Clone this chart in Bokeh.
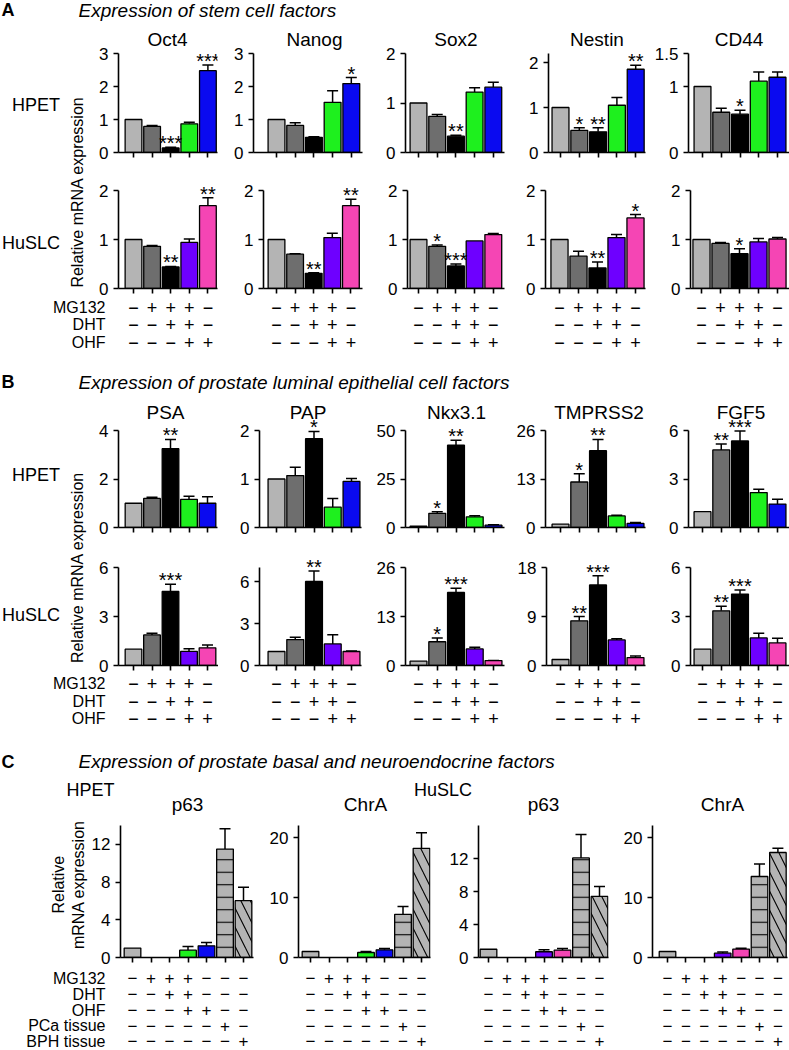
import math
from bokeh.plotting import figure
from bokeh.layouts import row, column
from bokeh.models import Range1d, FixedTicker, Whisker, ColumnDataSource, TeeHead
from bokeh.core.properties import value
from bokeh.embed import file_html
from bokeh.resources import INLINE

# ------------------------------------------------------------------ data
genes_a = ["Oct4", "Nanog", "Sox2", "Nestin", "CD44"]
genes_b = ["PSA", "PAP", "Nkx3.1", "TMPRSS2", "FGF5"]
genes_c = ["p63", "ChrA", "p63", "ChrA"]
cell_lines = ["HPET", "HuSLC"]

treatments_ab = ["MG132", "DHT", "OHF"]
mg132_ab = ["−", "+", "+", "+", "−"]
dht_ab = ["−", "−", "+", "+", "−"]
ohf_ab = ["−", "−", "−", "+", "+"]

treatments_c = ["MG132", "DHT", "OHF", "PCa tissue", "BPH tissue"]
mg132_c = ["−", "+", "+", "+", "−", "−", "−"]
dht_c = ["−", "−", "+", "+", "−", "−", "−"]
ohf_c = ["−", "−", "−", "+", "+", "−", "−"]
pca_c = ["−", "−", "−", "−", "−", "+", "−"]
bph_c = ["−", "−", "−", "−", "−", "−", "+"]

# Panel A, HPET
oct4_hpet = [1.0, 0.79, 0.14, 0.87, 2.48]
oct4_hpet_err = [0, 0.03, 0.02, 0.05, 0.17]
oct4_hpet_sig = ["", "", "***", "", "***"]
nanog_hpet = [1.0, 0.82, 0.46, 1.52, 2.09]
nanog_hpet_err = [0, 0.08, 0.02, 0.35, 0.18]
nanog_hpet_sig = ["", "", "", "", "*"]
sox2_hpet = [1.0, 0.73, 0.33, 1.22, 1.32]
sox2_hpet_err = [0, 0.04, 0.02, 0.09, 0.10]
sox2_hpet_sig = ["", "", "**", "", ""]
nestin_hpet = [1.0, 0.49, 0.46, 1.05, 1.85]
nestin_hpet_err = [0, 0.06, 0.09, 0.17, 0.09]
nestin_hpet_sig = ["", "*", "**", "", "**"]
cd44_hpet = [1.0, 0.61, 0.58, 1.08, 1.14]
cd44_hpet_err = [0, 0.06, 0.06, 0.14, 0.08]
cd44_hpet_sig = ["", "", "*", "", ""]

# Panel A, HuSLC
oct4_huslc = [1.0, 0.86, 0.44, 0.94, 1.69]
oct4_huslc_err = [0, 0.02, 0.01, 0.07, 0.16]
oct4_huslc_sig = ["", "", "**", "", "**"]
nanog_huslc = [1.0, 0.70, 0.31, 1.04, 1.69]
nanog_huslc_err = [0, 0.01, 0.01, 0.09, 0.13]
nanog_huslc_sig = ["", "", "**", "", "**"]
sox2_huslc = [1.0, 0.86, 0.46, 0.97, 1.10]
sox2_huslc_err = [0, 0.03, 0.04, 0.0, 0.02]
sox2_huslc_sig = ["", "*", "***", "", ""]
nestin_huslc = [1.0, 0.66, 0.42, 1.04, 1.44]
nestin_huslc_err = [0, 0.10, 0.12, 0.06, 0.07]
nestin_huslc_sig = ["", "", "**", "", "*"]
cd44_huslc = [1.0, 0.92, 0.71, 0.95, 1.01]
cd44_huslc_err = [0, 0.02, 0.10, 0.07, 0.03]
cd44_huslc_sig = ["", "", "*", "", ""]

# Panel B, HPET
psa_hpet = [1.0, 1.20, 3.25, 1.16, 1.0]
psa_hpet_err = [0, 0.05, 0.38, 0.13, 0.27]
psa_hpet_sig = ["", "", "**", "", ""]
pap_hpet = [1.0, 1.07, 1.83, 0.42, 0.95]
pap_hpet_err = [0, 0.17, 0.15, 0.18, 0.06]
pap_hpet_sig = ["", "", "*", "", ""]
nkx_hpet = [0.7, 7.3, 42.4, 5.5, 1.2]
nkx_hpet_err = [0, 0.8, 2.6, 0.5, 0.2]
nkx_hpet_sig = ["", "*", "**", "", ""]
tmprss2_hpet = [0.9, 12.2, 20.6, 3.1, 1.1]
tmprss2_hpet_err = [0, 2.2, 3.0, 0.2, 0.25]
tmprss2_hpet_sig = ["", "*", "**", "", ""]
fgf5_hpet = [0.98, 4.8, 5.35, 2.16, 1.45]
fgf5_hpet_err = [0, 0.37, 0.62, 0.2, 0.29]
fgf5_hpet_sig = ["", "**", "***", "", ""]

# Panel B, HuSLC
psa_huslc = [1.0, 1.87, 4.53, 0.87, 1.08]
psa_huslc_err = [0, 0.10, 0.45, 0.15, 0.18]
psa_huslc_sig = ["", "", "***", "", ""]
pap_huslc = [1.0, 1.85, 6.0, 1.54, 1.0]
pap_huslc_err = [0, 0.16, 0.75, 0.66, 0.03]
pap_huslc_sig = ["", "", "**", "", ""]
nkx_huslc = [1.15, 6.3, 19.4, 4.4, 1.3]
nkx_huslc_err = [0, 1.0, 1.1, 0.45, 0.05]
nkx_huslc_sig = ["", "*", "***", "", ""]
tmprss2_huslc = [1.1, 8.2, 14.8, 4.7, 1.46]
tmprss2_huslc_err = [0, 0.8, 1.7, 0.2, 0.3]
tmprss2_huslc_sig = ["", "**", "***", "", ""]
fgf5_huslc = [1.0, 3.35, 4.37, 1.69, 1.38]
fgf5_huslc_err = [0, 0.27, 0.26, 0.28, 0.29]
fgf5_huslc_sig = ["", "**", "***", "", ""]

# Panel C (None = no bar)
p63_hpet = [1.0, None, None, 0.78, 1.24, 11.5, 6.03]
p63_hpet_err = [0, 0, 0, 0.39, 0.36, 2.15, 1.42]
chra_hpet = [1.0, None, None, 0.83, 1.28, 7.2, 18.2]
chra_hpet_err = [0, 0, 0, 0.17, 0.22, 1.3, 2.6]
p63_huslc = [1.0, None, None, 0.70, 0.90, 12.07, 7.4]
p63_huslc_err = [0, 0, 0, 0.23, 0.20, 2.83, 1.2]
chra_huslc = [1.0, None, None, 0.72, 1.40, 13.5, 17.5]
chra_huslc_err = [0, 0, 0, 0.18, 0.15, 2.1, 0.7]

# y axes: (max of axis, ticks)
yax_a_hpet = [(3, [0, 1, 2, 3]), (3, [0, 1, 2, 3]), (2, [0, 1, 2]), (2.2, [0, 1, 2]), (1.5, [0, 1, 1.5])]
yax_a_huslc = [(2, [0, 1, 2])] * 5
yax_b_hpet = [(4, [0, 2, 4]), (2, [0, 1, 2]), (50, [0, 25, 50]), (26, [0, 13, 26]), (6, [0, 3, 6])]
yax_b_huslc = [(6, [0, 3, 6]), (7, [0, 3, 6]), (26, [0, 13, 26]), (18, [0, 9, 18]), (6, [0, 3, 6])]
yax_c = [(14, [0, 4, 8, 12]), (22, [0, 10, 20]), (16, [0, 4, 8, 12]), (22, [0, 10, 20])]

# ------------------------------------------------------------------ style
FONT = "Liberation Sans"
LIGHT, DARK, BLACK = "#b4b4b4", "#6e6e6e", "#000000"
GREEN, BLUE, PURPLE, PINK = "#1ef01e", "#0a0af0", "#6e00ff", "#f545b4"
cols_hpet = [LIGHT, DARK, BLACK, GREEN, BLUE]
cols_huslc = [LIGHT, DARK, BLACK, PURPLE, PINK]
cols_c_hpet = [LIGHT, DARK, BLACK, GREEN, BLUE, LIGHT, LIGHT]
cols_c_huslc = [LIGHT, DARK, BLACK, PURPLE, PINK, LIGHT, LIGHT]
hatch_c = [" ", " ", " ", " ", " ", "-", "\\"]
hatch_scale_c = [12, 12, 12, 12, 12, 12.5, 19]

TICK_FS = "17px"
W_TOTAL = 789


def fmt(t):
    return "%g" % t


def blank(x0, x1, y0, y1):
    p = figure(width=x1 - x0, height=y1 - y0, x_range=Range1d(x0, x1), y_range=Range1d(y1, y0),
               min_border_left=0, min_border_right=0, min_border_top=0, min_border_bottom=0,
               x_axis_type=None, y_axis_type=None, output_backend="svg", toolbar_location=None)
    p.outline_line_color = None
    return p


def put_text(p, xs, ys, texts, size, align="left", baseline="middle", style="normal", angle=0):
    p.text(x=xs, y=ys, text=texts, text_font=value(FONT), text_font_size=size,
           text_align=align, text_baseline=baseline, text_font_style=style, angle=angle,
           text_color="black")


def bar_fig(box, spec, yax, vals, errs, sigs, cols, hatches=None, hscales=None, title=None, title_pos=None):
    x0, x1, y0, y1 = box
    axis_x, tick1, right_x, sp, axis_top, axis_bot = spec
    ymax, yticks = yax
    fl, fr, fb = axis_x, right_x, axis_bot
    xs = 1 - (tick1 - fl) / sp
    xe = xs + (fr - fl) / sp
    ppu = (fb - axis_top) / ymax
    ye = (fb - y0) / ppu
    p = figure(width=x1 - x0, height=y1 - y0, x_range=Range1d(xs, xe), y_range=Range1d(0, ye),
               min_border_left=fl - x0, min_border_right=x1 - fr,
               min_border_top=0, min_border_bottom=y1 - fb,
               output_backend="svg", toolbar_location=None)
    p.outline_line_color = None
    p.xgrid.visible = False
    p.ygrid.visible = False
    for ax in (p.xaxis[0], p.yaxis[0]):
        ax.axis_line_width = 1.6
        ax.axis_line_color = "black"
        ax.major_tick_line_width = 1.6
        ax.major_tick_line_color = "black"
        ax.major_tick_out = 5
        ax.major_tick_in = 0
        ax.minor_tick_line_color = None
    n = len(vals)
    p.xaxis.ticker = FixedTicker(ticks=list(range(1, n + 1)))
    p.xaxis.major_label_text_font_size = "1px"
    p.xaxis.major_label_text_color = None
    p.xaxis.major_label_standoff = 0
    p.yaxis.ticker = FixedTicker(ticks=yticks)
    p.yaxis.bounds = (0, ymax)
    p.yaxis.major_label_overrides = {t: fmt(t) for t in yticks}
    p.yaxis.major_label_text_font = FONT
    p.yaxis.major_label_text_font_size = TICK_FS
    p.yaxis.major_label_text_color = "black"
    p.yaxis.major_label_standoff = 5

    idx = [i + 1 for i in range(n) if vals[i] is not None]
    src = ColumnDataSource(dict(
        x=idx, top=[vals[i - 1] for i in idx], color=[cols[i - 1] for i in idx],
        hatch=[(hatches[i - 1] if hatches else " ") for i in idx],
        hscale=[(hscales[i - 1] if hscales else 12) for i in idx]))
    p.vbar(x="x", top="top", width=0.9, source=src, fill_color="color", line_color="black",
           line_width=1.3, hatch_pattern="hatch", hatch_color="black", hatch_scale="hscale",
           hatch_weight=1.1)
    e_idx = [i for i in idx if errs[i - 1] > 0]
    esrc = ColumnDataSource(dict(x=e_idx, lo=[vals[i - 1] for i in e_idx],
                                 hi=[vals[i - 1] + errs[i - 1] for i in e_idx]))
    p.add_layout(Whisker(source=esrc, base="x", lower="lo", upper="hi", dimension="height",
                         line_color="black", line_width=1.5, lower_head=None,
                         upper_head=TeeHead(size=11, line_width=1.5, line_color="black")))
    if sigs:
        s_idx = [i for i in idx if sigs[i - 1]]
        put_text(p, s_idx, [vals[i - 1] + errs[i - 1] + 4.0 / ppu for i in s_idx],
                 [sigs[i - 1] for i in s_idx], "20px", align="center")
    if title:
        cx, cy = title_pos
        tx = xs + (cx - fl) / sp
        ty = (fb - cy) / ppu
        put_text(p, [tx], [ty], [title], "19px", align="center")
    return p, fl, fr


def table_fig(box, fl, fr, xr, rows_y, entries, size):
    x0, x1, y0, y1 = box
    p = figure(width=x1 - x0, height=y1 - y0, x_range=xr, y_range=Range1d(y1, y0),
               min_border_left=fl - x0, min_border_right=x1 - fr, min_border_top=0,
               min_border_bottom=0, x_axis_type=None, y_axis_type=None,
               output_backend="svg", toolbar_location=None)
    p.outline_line_color = None
    xs, ys, ts = [], [], []
    for ry, ent in zip(rows_y, entries):
        for i, s in enumerate(ent):
            xs.append(i + 1)
            ys.append(ry)
            ts.append(s)
    put_text(p, xs, ys, ts, size, align="center")
    return p


BOX_AB = [92, 218, 365, 510, 650, 789]
BOX_C = [88, 256, 432, 612, 789]
TAB_LABEL_W = 112


def panel_ab(letter, heading, letter_y, head_band, hpet_band, huslc_band, table_band,
             genes, title_x, title_y, hpet_specs, huslc_specs, yax_hpet, yax_huslc,
             hpet_data, huslc_data, label_y, ytitle_y, table_rows):
    head = blank(0, W_TOTAL, *head_band)
    put_text(head, [1], [letter_y], [letter], "18px", style="bold")
    put_text(head, [78], [letter_y], [heading], "19px", style="italic")

    left = blank(0, BOX_AB[0], hpet_band[0], huslc_band[1])
    put_text(left, [59.5, 59.5], list(label_y), cell_lines, "18px", align="right")
    put_text(left, [77], [ytitle_y], ["Relative mRNA expression"], "16px",
             align="center", angle=math.pi / 2)

    hp, hu, tabs = [], [], []
    for k in range(5):
        bx = (BOX_AB[k], BOX_AB[k + 1])
        v, e, s = hpet_data[k]
        p1, _, _ = bar_fig((bx[0], bx[1], *hpet_band), hpet_specs[k], yax_hpet[k], v, e, s,
                           cols_hpet, title=genes[k], title_pos=(title_x[k], title_y))
        v, e, s = huslc_data[k]
        p2, fl, fr = bar_fig((bx[0], bx[1], *huslc_band), huslc_specs[k], yax_huslc[k], v, e, s,
                             cols_huslc)
        hp.append(p1)
        hu.append(p2)
        tx0 = TAB_LABEL_W if k == 0 else bx[0]
        tabs.append(table_fig((tx0, bx[1], *table_band), fl, fr, p2.x_range,
                              table_rows, [mg132_ab, dht_ab, ohf_ab], "18px"))
    tlab = blank(0, TAB_LABEL_W, *table_band)
    put_text(tlab, [105] * 3, table_rows, treatments_ab, "16px", align="right")
    return column(head, row(left, column(row(*hp), row(*hu))), row(tlab, *tabs))


# ---------------- Panel A
a_hpet_specs = [(118, 133, 217, 18.6, 53, 152), (253, 276, 362, 18.7, 53, 152),
                (405, 418, 504, 18.7, 53, 152), (548, 560, 645, 18.8, 53, 152),
                (688, 702, 789, 18.75, 53, 152)]
a_huslc_specs = [(118, 133, 217, 18.6, 190, 288), (263, 276, 362, 18.6, 190, 288),
                 (407, 418, 504, 18.7, 190, 288), (545, 559, 645, 19.0, 190, 288),
                 (690, 701, 789, 19.0, 190, 288)]
a_hpet_data = [(oct4_hpet, oct4_hpet_err, oct4_hpet_sig), (nanog_hpet, nanog_hpet_err, nanog_hpet_sig),
               (sox2_hpet, sox2_hpet_err, sox2_hpet_sig), (nestin_hpet, nestin_hpet_err, nestin_hpet_sig),
               (cd44_hpet, cd44_hpet_err, cd44_hpet_sig)]
a_huslc_data = [(oct4_huslc, oct4_huslc_err, oct4_huslc_sig), (nanog_huslc, nanog_huslc_err, nanog_huslc_sig),
                (sox2_huslc, sox2_huslc_err, sox2_huslc_sig), (nestin_huslc, nestin_huslc_err, nestin_huslc_sig),
                (cd44_huslc, cd44_huslc_err, cd44_huslc_sig)]
panel_a = panel_ab("A", "Expression of stem cell factors", 9.5, (0, 22), (22, 170), (170, 296), (296, 352),
                   genes_a, [167, 314, 455.5, 596.5, 738.5], 39, a_hpet_specs, a_huslc_specs,
                   yax_a_hpet, yax_a_huslc, a_hpet_data, a_huslc_data, (104, 242.5), 191.5,
                   [307, 324, 342])

# ---------------- Panel B
b_hpet_specs = [(118, 133, 217, 18.5, 430, 527), (259, 276, 361, 18.75, 430, 527),
                (405, 418, 504, 18.75, 430, 527), (545, 560, 645, 18.75, 430, 527),
                (688, 702, 789, 18.75, 430, 527)]
b_huslc_specs = [(118, 133, 218, 18.5, 567, 665), (259, 276, 361, 18.75, 567, 665),
                 (405, 418, 504, 18.75, 567, 665), (546, 560, 645, 18.75, 567, 665),
                 (690, 702, 789, 18.75, 567, 665)]
b_hpet_data = [(psa_hpet, psa_hpet_err, psa_hpet_sig), (pap_hpet, pap_hpet_err, pap_hpet_sig),
               (nkx_hpet, nkx_hpet_err, nkx_hpet_sig), (tmprss2_hpet, tmprss2_hpet_err, tmprss2_hpet_sig),
               (fgf5_hpet, fgf5_hpet_err, fgf5_hpet_sig)]
b_huslc_data = [(psa_huslc, psa_huslc_err, psa_huslc_sig), (pap_huslc, pap_huslc_err, pap_huslc_sig),
                (nkx_huslc, nkx_huslc_err, nkx_huslc_sig), (tmprss2_huslc, tmprss2_huslc_err, tmprss2_huslc_sig),
                (fgf5_huslc, fgf5_huslc_err, fgf5_huslc_sig)]
panel_b = panel_ab("B", "Expression of prostate luminal epithelial cell factors", 381.5, (352, 396), (396, 545),
                   (545, 673), (673, 730), genes_b, [165, 307.5, 456, 598.5, 740.5], 411.5,
                   b_hpet_specs, b_huslc_specs, yax_b_hpet, yax_b_huslc, b_hpet_data, b_huslc_data,
                   (474, 614), 567, [683, 701, 718])

# ---------------- Panel C
head_c = blank(0, W_TOTAL, 730, 815)
put_text(head_c, [1], [761], ["C"], "18px", style="bold")
put_text(head_c, [78], [761], ["Expression of prostate basal and neuroendocrine factors"], "19px",
         style="italic")
put_text(head_c, [90, 442.5], [789.5, 789.5], cell_lines, "18px", align="center")
put_text(head_c, [187, 365, 543, 722], [803.5] * 4, genes_c, "19px", align="center")

C_PLOT_BAND = (815, 967)
C_TABLE_BAND = (967, 1050)
left_c = blank(0, BOX_C[0], *C_PLOT_BAND)
put_text(left_c, [57.5, 77.5], [889, 889], ["Relative", "mRNA expression"], "16px", align="center",
         angle=math.pi / 2)

c_specs = [(120, 132, 253, 18.5, 825, 957), (298, 310, 430, 18.5, 825, 957),
           (478, 488, 608, 18.5, 825, 957), (652, 667, 787, 18.4, 825, 957)]
c_data = [(p63_hpet, p63_hpet_err, cols_c_hpet), (chra_hpet, chra_hpet_err, cols_c_hpet),
          (p63_huslc, p63_huslc_err, cols_c_huslc), (chra_huslc, chra_huslc_err, cols_c_huslc)]
c_table_rows = [977.5, 993.5, 1009.5, 1025, 1040.5]
plots_c, tabs_c = [], []
for k in range(4):
    v, e, cl = c_data[k]
    pc, fl, fr = bar_fig((BOX_C[k], BOX_C[k + 1], *C_PLOT_BAND), c_specs[k], yax_c[k], v, e, None, cl,
                         hatches=hatch_c, hscales=hatch_scale_c)
    plots_c.append(pc)
    tx0 = TAB_LABEL_W if k == 0 else BOX_C[k]
    tabs_c.append(table_fig((tx0, BOX_C[k + 1], *C_TABLE_BAND), fl, fr, pc.x_range,
                            c_table_rows, [mg132_c, dht_c, ohf_c, pca_c, bph_c], "17px"))
tlab_c = blank(0, TAB_LABEL_W, *C_TABLE_BAND)
put_text(tlab_c, [105] * 5, c_table_rows, treatments_c, "16px", align="right")
panel_c = column(head_c, row(left_c, *plots_c), row(tlab_c, *tabs_c))

p = column(panel_a, panel_b, panel_c)
open("out.html", "w").write(file_html(p, INLINE))
